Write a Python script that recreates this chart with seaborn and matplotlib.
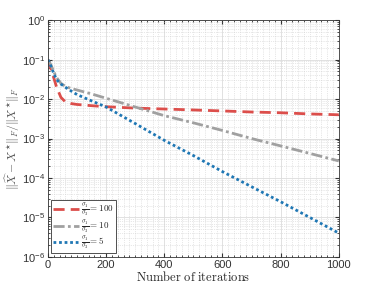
import numpy as np
import pandas as pd
import matplotlib
matplotlib.use("Agg")
import matplotlib.pyplot as plt
import seaborn as sns
from matplotlib.ticker import MultipleLocator, LogLocator, NullFormatter


# data
iters = [0, 10, 20, 30, 45, 60, 80, 100, 150, 200, 300, 400, 500, 600, 700, 800, 900, 1000]

err_100 = [0.1, 0.06, 0.035, 0.02, 0.011, 0.0085, 0.0077, 0.0073, 0.0068, 0.0064, 0.0059,
           0.0056, 0.0053, 0.005, 0.0047, 0.0045, 0.0042, 0.004]
err_10 = [0.1, 0.075, 0.05, 0.035, 0.025, 0.021, 0.0185, 0.017, 0.0135, 0.0105, 0.0063,
          0.0038, 0.0025, 0.0016, 0.001, 0.00065, 0.00042, 0.00027]
err_5 = [0.1, 0.07, 0.045, 0.031, 0.024, 0.02, 0.016, 0.013, 0.009, 0.0063, 0.0024,
         0.0009, 0.00037, 0.000145, 0.00006, 0.000025, 0.00001, 0.000004]

labels = [r"$\frac{\sigma_1}{\sigma_3} = 100$",
          r"$\frac{\sigma_1}{\sigma_3} = 10$",
          r"$\frac{\sigma_1}{\sigma_3} = 5$"]
colors = ["#dc4e4b", "#a0a0a0", "#1f77b4"]
styles = [(0, (4, 2.2)), (0, (4, 1.2, 1, 1.2)), (0, (1, 1))]

df = pd.DataFrame({
    "iter": iters * 3,
    "err": err_100 + err_10 + err_5,
    "ratio": [labels[0]] * len(iters) + [labels[1]] * len(iters) + [labels[2]] * len(iters),
})

sns.set_style("ticks")
plt.rcParams["mathtext.fontset"] = "cm"
plt.rcParams["font.family"] = ["Liberation Sans", "DejaVu Sans"]

fig, ax = plt.subplots(figsize=(3.74, 2.88), dpi=100)
fig.subplots_adjust(left=0.128, right=0.906, top=0.93, bottom=0.108)

for lab, col, ls in zip(labels, colors, styles):
    sns.lineplot(data=df[df["ratio"] == lab], x="iter", y="err", color=col,
                 linestyle=ls, linewidth=2.0, label=lab, ax=ax)

ax.set_yscale("log")
ax.set_xlim(0, 1000)
ax.set_ylim(1e-6, 1)
ax.xaxis.set_major_locator(MultipleLocator(200))
ax.xaxis.set_minor_locator(MultipleLocator(20))
ax.yaxis.set_major_locator(LogLocator(base=10, numticks=10))
ax.yaxis.set_minor_locator(LogLocator(base=10, subs=np.arange(2, 10), numticks=20))
ax.yaxis.set_minor_formatter(NullFormatter())

ax.grid(True, which="major", color="#dcdcdc", linewidth=0.6)
ax.grid(True, which="minor", color="#d0d0d0", linestyle=":", linewidth=0.5)
ax.set_axisbelow(True)

for s in ax.spines.values():
    s.set_visible(True)
    s.set_color("#333333")
    s.set_linewidth(0.6)
ax.tick_params(which="both", direction="in", top=True, right=True, labelsize=8,
               color="#333333", labelcolor="#333333", length=3, pad=2)
ax.tick_params(which="minor", length=1.5)

ax.set_xlabel(r"$\mathrm{Number\ of\ iterations}$", fontsize=9, labelpad=0)
ax.set_ylabel(r"$\|\widehat{X} - X^{\star}\|_F / \|X^{\star}\|_F$", fontsize=8.5,
              color="#555555", labelpad=0)

leg = ax.legend(loc="lower left", fontsize=6.5, frameon=True, fancybox=False,
                edgecolor="#333333", framealpha=1, handlelength=2.8,
                borderpad=0.2, labelspacing=0.05, handletextpad=0.3,
                borderaxespad=0.4)
leg.get_frame().set_linewidth(0.6)

plt.savefig("out.png", dpi=100)
